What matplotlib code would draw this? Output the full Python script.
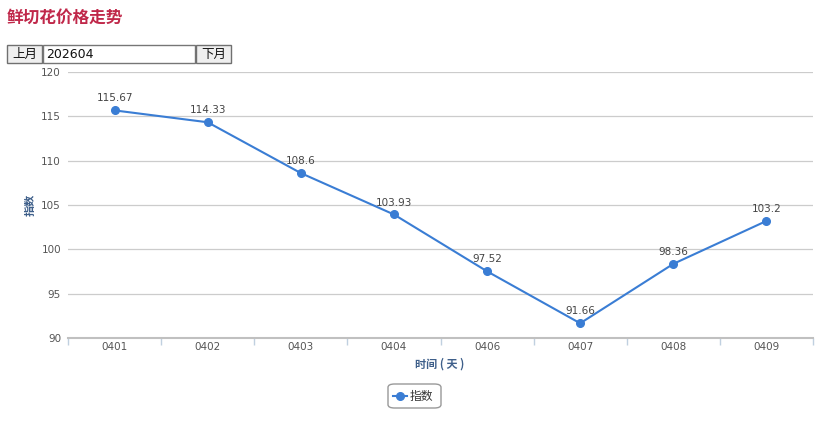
import matplotlib
matplotlib.use("Agg")
import matplotlib.pyplot as plt
from matplotlib.patches import Rectangle, FancyBboxPatch
from matplotlib.lines import Line2D

plt.rcParams['font.family'] = ['Noto Sans CJK SC', 'DejaVu Sans']

categories = ["0401", "0402", "0403", "0404", "0406", "0407", "0408", "0409"]
values = [115.67, 114.33, 108.6, 103.93, 97.52, 91.66, 98.36, 103.2]
labels = ["115.67", "114.33", "108.6", "103.93", "97.52", "91.66", "98.36", "103.2"]
yticks = [90, 95, 100, 105, 110, 115, 120]

W, H = 824, 422
fig = plt.figure(figsize=(W/100, H/100), dpi=100)

def fx(px): return px / W
def fy(py): return 1 - py / H

ax = fig.add_axes([fx(68), fy(338), fx(813) - fx(68), fy(72) - fy(338)])
n = len(categories)
xs = list(range(n))
line_color = "#3a7dd4"
ax.plot(xs, values, color=line_color, lw=1.5, marker='o', ms=5.5, zorder=3, clip_on=False)
for x, v, l in zip(xs, values, labels):
    ax.annotate(l, (x, v), xytext=(0, 5), textcoords='offset points', ha='center', va='bottom',
                fontsize=7.5, color='#444444', family='DejaVu Sans')

ax.set_xlim(-0.5, n - 0.5)
ax.set_ylim(90, 120)
ax.set_yticks(yticks)
ax.set_yticklabels([str(t) for t in yticks], fontsize=7.5, color='#555555', family='DejaVu Sans')
ax.set_xticks(xs)
ax.set_xticklabels(categories, fontsize=7.5, color='#555555', family='DejaVu Sans')
ax.tick_params(axis='x', length=0, pad=3)
ax.set_xticks([i - 0.5 for i in range(n + 1)], minor=True)
ax.tick_params(axis='x', which='minor', length=5, color='#c0d0e0', width=1)
ax.tick_params(axis='y', length=0, pad=5)
ax.grid(axis='y', color='#cccccc', lw=0.9)
ax.set_axisbelow(True)
for s in ['top', 'right', 'left']:
    ax.spines[s].set_visible(False)
ax.spines['bottom'].set_color('#c0c0c0')
ax.spines['bottom'].set_linewidth(1.5)

label_color = '#3e5f8a'
fig.text(fx(30), fy(205), "指数", rotation=90, ha='center', va='center', fontsize=8,
         color=label_color, fontweight='bold')
fig.text(fx(440), fy(364), "时间 ( 天 )", ha='center', va='center', fontsize=8,
         color=label_color, fontweight='bold')

# title
fig.text(fx(7), fy(18), "鲜切花价格走势", ha='left', va='center', fontsize=12,
         color='#c0284a', fontweight='bold')

# controls
def box(x0, y0, x1, y1, fc, ec='#707070'):
    fig.patches.append(Rectangle((fx(x0), fy(y1)), fx(x1) - fx(x0), fy(y0) - fy(y1),
                                 transform=fig.transFigure, fc=fc, ec=ec, lw=1))
box(7, 45, 42, 63, '#efefef')
fig.text(fx(24.5), fy(54), "上月", ha='center', va='center', fontsize=9, color='#111111')
box(43, 45, 195, 63, '#ffffff', ec='#767676')
fig.text(fx(46), fy(54), "202604", ha='left', va='center', fontsize=9, color='#111111',
         family='DejaVu Sans')
box(196, 45, 231, 63, '#efefef')
fig.text(fx(213.5), fy(54), "下月", ha='center', va='center', fontsize=9, color='#111111')

# legend
fig.patches.append(FancyBboxPatch((fx(388), fy(408)), fx(441) - fx(388), fy(384) - fy(408),
                                  boxstyle="round,pad=0,rounding_size=0.008",
                                  transform=fig.transFigure, fc='white', ec='#999999', lw=1))
fig.lines.append(Line2D([fx(393), fx(407)], [fy(396), fy(396)], transform=fig.transFigure,
                        color=line_color, lw=1.5, marker=None))
fig.lines.append(Line2D([fx(400)], [fy(396)], transform=fig.transFigure,
                        color=line_color, marker='o', ms=5.5))
fig.text(fx(410), fy(396), "指数", ha='left', va='center', fontsize=8.5, color='#333333')

fig.savefig("out.png", dpi=100)
